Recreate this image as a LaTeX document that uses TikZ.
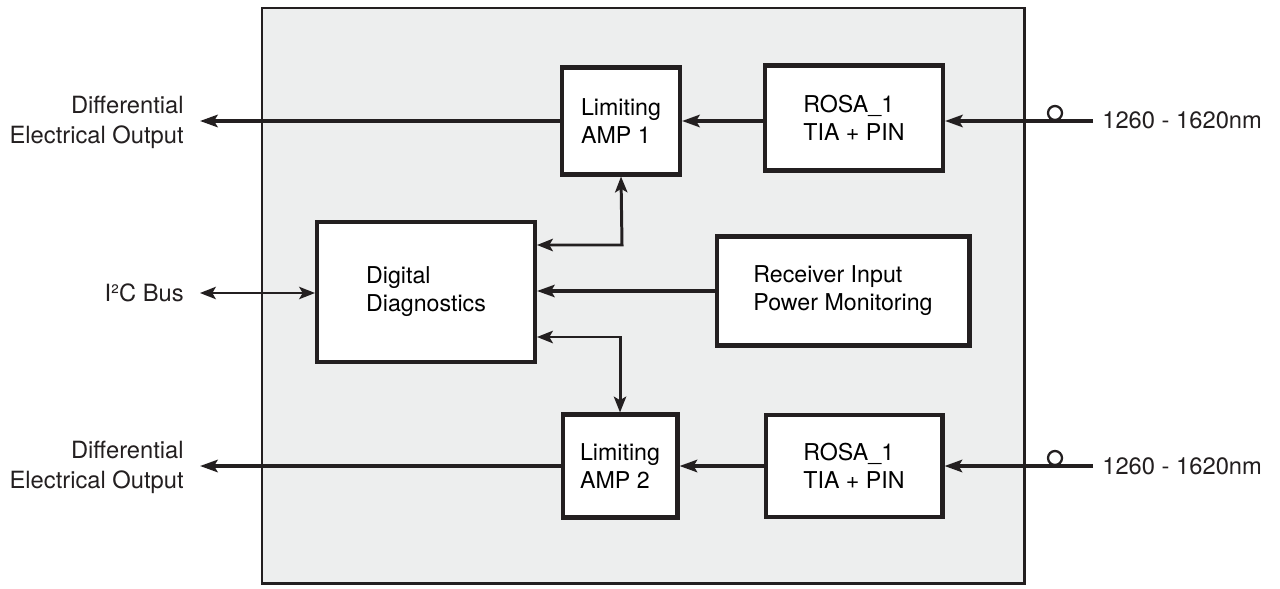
\documentclass[tikz,border=0pt]{standalone}
\usepackage{fontspec}
\setmainfont{TeX Gyre Heros}
\usepackage{xcolor}
\usetikzlibrary{arrows.meta,positioning}
\definecolor{panel}{HTML}{EDEEEE}
\definecolor{ink}{HTML}{231F20}

\begin{document}
\begin{tikzpicture}[x=0.02cm,y=-0.02cm,
  blk/.style={draw=ink,fill=white,line width=2.3pt,inner sep=0pt,align=left,
    font=\fontsize{13.2}{16}\selectfont},
  lbl/.style={inner sep=0pt,font=\fontsize{13.5}{17}\selectfont,text=ink},
  sig/.style={draw=ink,line width=2.2pt,-{Stealth[length=10pt,width=7pt,inset=2pt]}},
  ctl/.style={draw=ink,line width=1.7pt,line join=miter,{Stealth[length=9pt,width=7pt,inset=2pt]}-{Stealth[length=9pt,width=7pt,inset=2pt]}}]
\useasboundingbox (0,0) rectangle (1280,588);

    % module outline
    \draw[ink,fill=panel,line width=1.7pt] (262,8) rectangle (1024,583);

    % blocks
    \node[blk,minimum width=2.36cm,minimum height=2.14cm] (amp1) at (621,121) {Limiting\\AMP 1};
    \node[blk,minimum width=3.56cm,minimum height=2.10cm] (rosa1) at (854,118) {ROSA\_1\\TIA + PIN};
    \node[blk,minimum width=4.36cm,minimum height=2.80cm] (dd) at (426,292) {Digital\\Diagnostics};
    \node[blk,minimum width=5.06cm,minimum height=2.18cm] (ripm) at (843,291) {Receiver Input\\Power Monitoring};
    \node[blk,minimum width=2.30cm,minimum height=2.06cm] (amp2) at (620,466) {Limiting\\AMP 2};
    \node[blk,minimum width=3.54cm,minimum height=2.04cm] (rosa2) at (854,466) {ROSA\_1\\TIA + PIN};

    % outside labels
    \node[lbl,anchor=east,align=right] (out1) at (184,122) {Differential\\Electrical Output};
    \node[lbl,anchor=east,align=right] (out2) at (184,467) {Differential\\Electrical Output};
    \node[lbl,anchor=east] (bus) at (184,293) {I²C Bus};
    \node[lbl,anchor=west] (nm1) at (1102,120) {1260 - 1620nm};
    \node[lbl,anchor=west] (nm2) at (1102,466) {1260 - 1620nm};

    \coordinate (in1) at (1093,121);
    \coordinate (in2) at (1093,466);
    \coordinate (tip1) at (200,121);
    \coordinate (tip2) at (200,466);
    \coordinate (tipb) at (200,293);
    \coordinate (k1) at (622,245);
    \coordinate (k2) at (620,337);

    % optical inputs with fibre loop
    \draw[sig] (in1) -- (in1 -| rosa1.east);
    \draw[sig] (in2) -- (in2 -| rosa2.east);
    \draw[ink,line width=1.3pt] (1055,113) circle(7);
    \draw[ink,line width=1.3pt] (1055,458) circle(7);

    % signal path
    \draw[sig] (in1 -| rosa1.west) -- (in1 -| amp1.east);
    \draw[sig] (in2 -| rosa2.west) -- (in2 -| amp2.east);
    \draw[sig] (tip1 -| amp1.west) -- (tip1);
    \draw[sig] (tip2 -| amp2.west) -- (tip2);

    % monitoring and control
    \draw[ctl] (amp1.south) -- (k1) -- (k1 -| dd.east);
    \draw[ctl] (k2 -| dd.east) -- (k2) -- (amp2.north);
    \draw[sig,line width=1.8pt] (ripm.west) -- (ripm.west -| dd.east);
    \draw[ctl,line width=1.4pt] (tipb) -- (tipb -| dd.west);

\end{tikzpicture}
\end{document}
